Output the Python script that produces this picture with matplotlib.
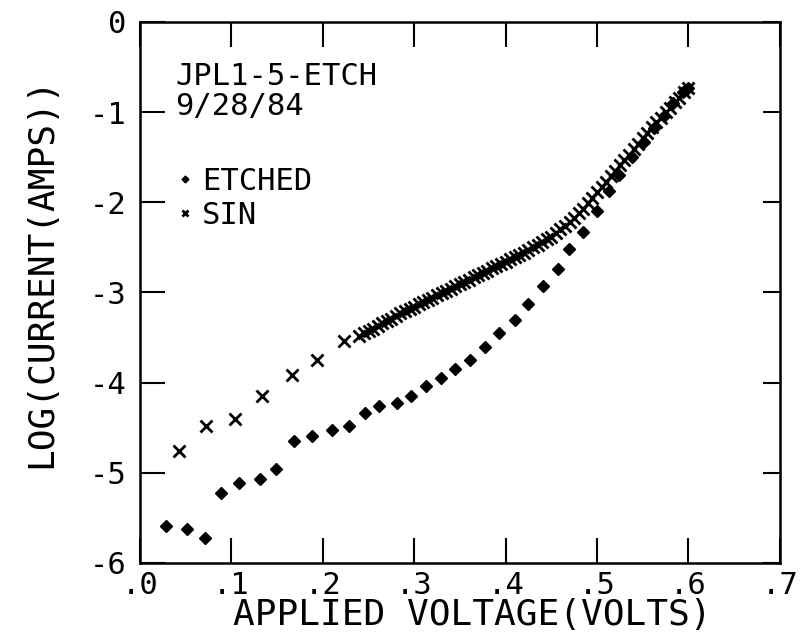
import matplotlib
matplotlib.use('Agg')
import matplotlib.pyplot as plt

# plotter style text: plain hyphen as minus sign
plt.rc('font', family='DejaVu Sans Mono')
plt.rc('axes', unicode_minus=False)

# data: applied voltage (V) and log10(current / A)
etched_v = [0.028, 0.051, 0.071, 0.089, 0.108, 0.131, 0.149, 0.168, 0.188, 0.210,
            0.229, 0.246, 0.262, 0.281, 0.297, 0.313, 0.329, 0.345, 0.361, 0.377,
            0.393, 0.410, 0.425, 0.441, 0.457, 0.469, 0.485, 0.500, 0.513, 0.524,
            0.538, 0.551, 0.562, 0.573, 0.583, 0.594, 0.600]
etched_log = [-5.59, -5.62, -5.72, -5.22, -5.11, -5.07, -4.96, -4.65, -4.59, -4.52,
              -4.48, -4.34, -4.26, -4.23, -4.15, -4.04, -3.95, -3.85, -3.75, -3.60,
              -3.45, -3.30, -3.13, -2.93, -2.74, -2.52, -2.33, -2.10, -1.88, -1.70,
              -1.50, -1.33, -1.18, -1.04, -0.90, -0.78, -0.73]

sin_v = [0.043, 0.072, 0.104, 0.133, 0.166, 0.194, 0.223,
         0.240, 0.245, 0.250, 0.255, 0.260, 0.265, 0.270, 0.275, 0.280, 0.285,
         0.290, 0.295, 0.300, 0.305, 0.310, 0.315, 0.320, 0.325, 0.330, 0.335,
         0.340, 0.345, 0.350, 0.355, 0.360, 0.365, 0.370, 0.375, 0.380, 0.385,
         0.390, 0.395, 0.400, 0.405, 0.410, 0.415, 0.420, 0.425, 0.430, 0.435,
         0.440, 0.445, 0.450, 0.455, 0.460, 0.465, 0.470, 0.475, 0.480, 0.485,
         0.490, 0.495, 0.500, 0.505, 0.510, 0.515, 0.520, 0.525, 0.530, 0.535,
         0.540, 0.545, 0.550, 0.555, 0.560, 0.565, 0.570, 0.575, 0.580, 0.585,
         0.590, 0.595, 0.600]
sin_log = [-4.76, -4.48, -4.40, -4.15, -3.91, -3.75, -3.54,
           -3.48, -3.45, -3.43, -3.40, -3.37, -3.34, -3.32, -3.29, -3.26, -3.23,
           -3.21, -3.18, -3.16, -3.13, -3.11, -3.08, -3.06, -3.03, -3.01, -2.98,
           -2.96, -2.93, -2.91, -2.88, -2.86, -2.83, -2.81, -2.78, -2.76, -2.73,
           -2.71, -2.68, -2.66, -2.63, -2.61, -2.58, -2.56, -2.53, -2.50, -2.47,
           -2.44, -2.41, -2.38, -2.34, -2.30, -2.26, -2.22, -2.17, -2.12, -2.07,
           -2.01, -1.95, -1.89, -1.83, -1.77, -1.71, -1.65, -1.59, -1.53, -1.47,
           -1.41, -1.35, -1.29, -1.23, -1.17, -1.11, -1.06, -1.00, -0.95, -0.89,
           -0.84, -0.78, -0.73]

x_ticks = [0.0, 0.1, 0.2, 0.3, 0.4, 0.5, 0.6, 0.7]
x_labels = ['.0', '.1', '.2', '.3', '.4', '.5', '.6', '.7']
y_ticks = [-6, -5, -4, -3, -2, -1, 0]
y_labels = ['-6', '-5', '-4', '-3', '-2', '-1', '0']

fig = plt.figure(figsize=(8.1, 6.35), dpi=100)
ax = fig.add_axes([0.1728, 0.1134, 0.790, 0.852])

ax.plot(etched_v, etched_log, 'kD', markersize=6.3, linestyle='none', label='ETCHED')
ax.plot(sin_v, sin_log, 'kx', markersize=8.5, markeredgewidth=2.0, linestyle='none', label='SIN')

ax.set_xlim(0, 0.7)
ax.set_ylim(-6, 0)
ax.set_xticks(x_ticks)
ax.set_xticklabels(x_labels)
ax.set_yticks(y_ticks)
ax.set_yticklabels(y_labels)

for s in ax.spines.values():
    s.set_linewidth(1.8)
ax.tick_params(direction='in', top=True, right=True, length=18, width=1.5,
               labelsize=22)
ax.tick_params(axis='x', pad=6)
ax.tick_params(axis='y', pad=10)
# right hand ticks are shorter
for t in ax.yaxis.get_major_ticks():
    t.tick2line.set_markersize(12)

ax.set_xlabel('APPLIED VOLTAGE(VOLTS)', fontsize=26)
ax.xaxis.set_label_coords(0.52, -0.065)
ax.xaxis.label.set_verticalalignment('top')
ax.set_ylabel('LOG(CURRENT(AMPS))', fontsize=26)
ax.yaxis.set_label_coords(-0.127, 0.538)

ax.text(0.055, 0.884, 'JPL1-5-ETCH', transform=ax.transAxes, fontsize=22)
ax.text(0.055, 0.828, '9/28/84', transform=ax.transAxes, fontsize=22)

leg = ax.legend(loc='upper left', bbox_to_anchor=(0.035, 0.76), frameon=False,
                fontsize=22, handlelength=0.5, handletextpad=0.3, borderpad=0,
                labelspacing=0.15, markerscale=0.55)

plt.savefig('out.png', dpi=100)
